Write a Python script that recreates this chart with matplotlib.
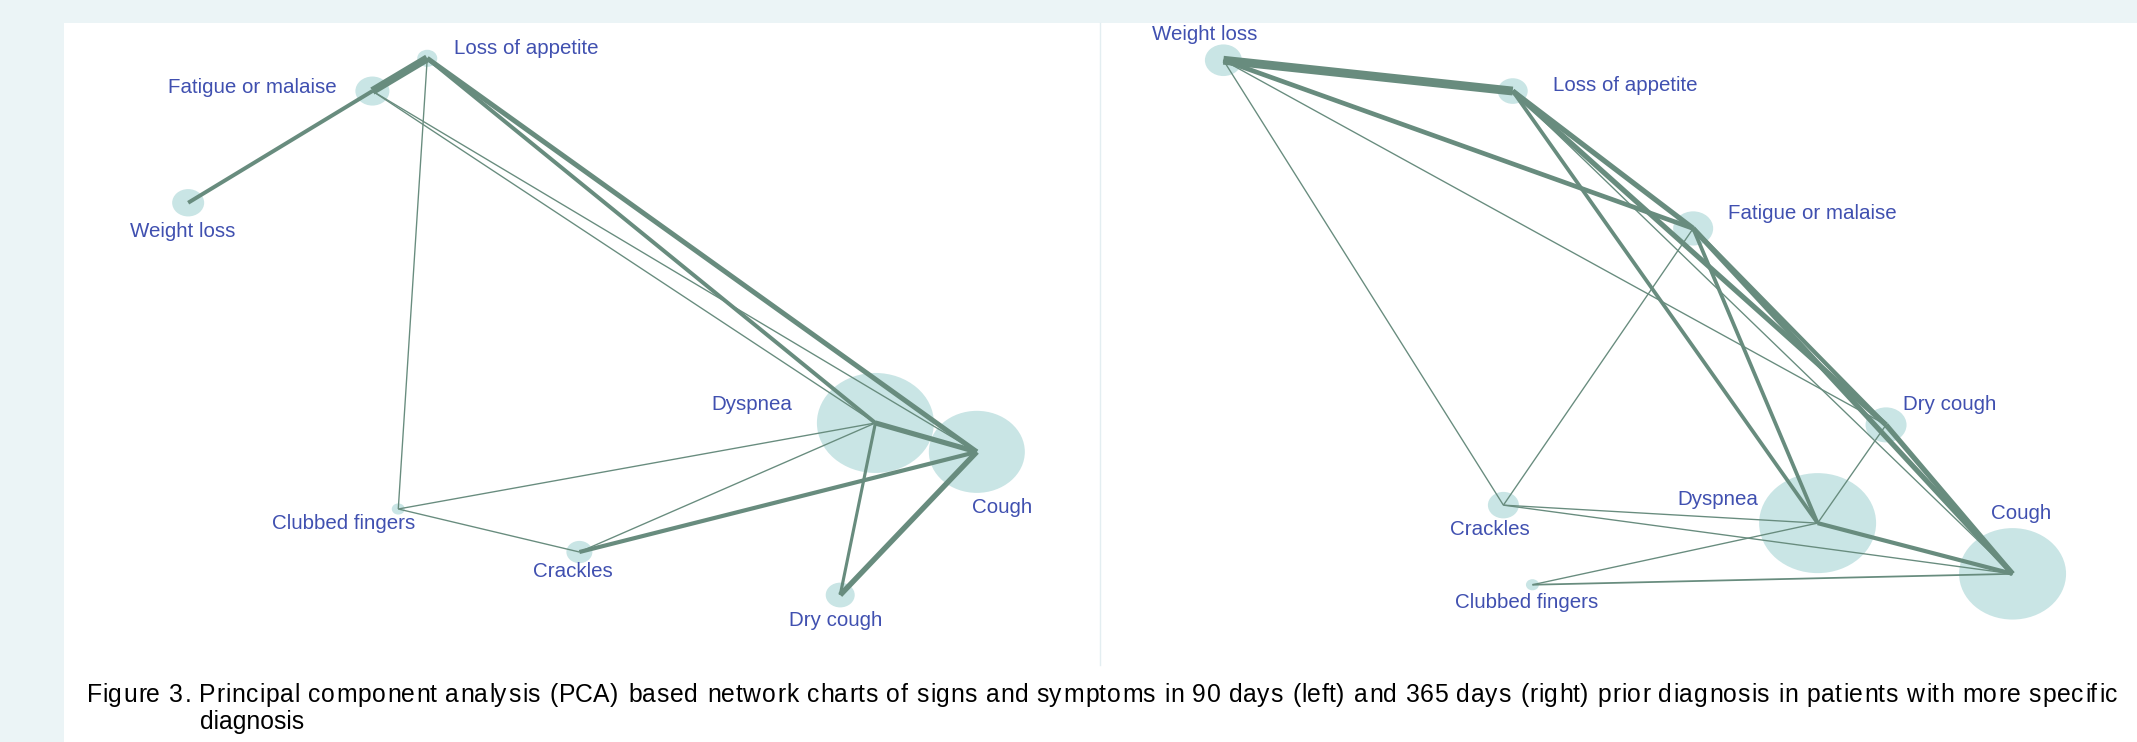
import matplotlib.pyplot as plt
from matplotlib import font_manager
from matplotlib.ft2font import FT2Font
from matplotlib.patches import Ellipse, Rectangle
from matplotlib.lines import Line2D

plt.rcParams['font.family'] = ['Liberation Sans', 'DejaVu Sans']

W_PX, H_PX, DPI = 2137, 742, 100

symptoms = ["Weight loss", "Loss of appetite", "Fatigue or malaise", "Dyspnea",
            "Cough", "Dry cough", "Crackles", "Clubbed fingers"]

# 90 days before diagnosis: PCA layout scores (0-100), node size, edge weights
x_90 = [11.9, 35.0, 29.7, 78.3, 88.1, 74.9, 49.7, 32.2]
y_90 = [72.0, 94.5, 89.4, 37.7, 33.2, 10.9, 17.6, 24.3]
size_90 = [32, 20, 34, 117, 96, 29, 26, 13]
edges_90 = [
    ("Weight loss", "Fatigue or malaise", 0.38),
    ("Fatigue or malaise", "Loss of appetite", 0.77),
    ("Loss of appetite", "Cough", 0.48),
    ("Loss of appetite", "Dyspnea", 0.38),
    ("Loss of appetite", "Clubbed fingers", 0.13),
    ("Fatigue or malaise", "Dyspnea", 0.13),
    ("Fatigue or malaise", "Cough", 0.13),
    ("Dyspnea", "Cough", 0.50),
    ("Dyspnea", "Dry cough", 0.30),
    ("Cough", "Dry cough", 0.52),
    ("Cough", "Crackles", 0.40),
    ("Dyspnea", "Crackles", 0.13),
    ("Dyspnea", "Clubbed fingers", 0.13),
    ("Clubbed fingers", "Crackles", 0.13),
]

# 365 days before diagnosis
x_365 = [11.9, 39.8, 57.2, 69.2, 88.0, 75.8, 38.9, 41.7]
y_365 = [94.2, 89.4, 68.0, 22.1, 14.2, 37.4, 24.9, 12.5]
size_365 = [37, 30, 40, 117, 107, 41, 31, 13]
edges_365 = [
    ("Weight loss", "Loss of appetite", 0.85),
    ("Weight loss", "Fatigue or malaise", 0.45),
    ("Weight loss", "Dry cough", 0.13),
    ("Weight loss", "Crackles", 0.13),
    ("Loss of appetite", "Fatigue or malaise", 0.50),
    ("Loss of appetite", "Dry cough", 0.50),
    ("Loss of appetite", "Cough", 0.13),
    ("Loss of appetite", "Dyspnea", 0.36),
    ("Fatigue or malaise", "Dry cough", 0.40),
    ("Fatigue or malaise", "Cough", 0.50),
    ("Fatigue or malaise", "Dyspnea", 0.36),
    ("Fatigue or malaise", "Crackles", 0.13),
    ("Dry cough", "Cough", 0.50),
    ("Dry cough", "Dyspnea", 0.13),
    ("Dyspnea", "Cough", 0.40),
    ("Dyspnea", "Crackles", 0.13),
    ("Dyspnea", "Clubbed fingers", 0.13),
    ("Crackles", "Cough", 0.13),
    ("Clubbed fingers", "Cough", 0.17),
]

caption_1 = ("Figure 3. Principal component analysis (PCA) based network charts of signs and "
             "symptoms in 90 days (left) and 365 days (right) prior diagnosis in patients with more specific")
caption_2 = "diagnosis"

# label placement (pixels from node centre, +y downwards)
labels_90 = {
    "Weight loss": (-5, 29), "Loss of appetite": (99, -10), "Fatigue or malaise": (-120, -4),
    "Dyspnea": (-124, -18), "Cough": (25, 56), "Dry cough": (-5, 25),
    "Crackles": (-7, 19), "Clubbed fingers": (-55, 15),
}
labels_365 = {
    "Weight loss": (-19, -26), "Loss of appetite": (113, -6), "Fatigue or malaise": (119, -15),
    "Dyspnea": (-100, -24), "Cough": (9, -60), "Dry cough": (64, -20),
    "Crackles": (-14, 24), "Clubbed fingers": (-6, 18),
}

NODE_COLOR = '#C9E5E5'
EDGE_COLOR = '#688C7E'
LABEL_COLOR = '#4050B0'
BG_COLOR = '#EBF4F6'
CAPTION_SIZE = 17.8


def draw_network(ax, xs, ys, sizes, edges, label_pos):
    ax.set_xlim(0, 100)
    ax.set_ylim(0, 100)
    ax.axis('off')
    bbox = ax.get_window_extent()
    px_x, px_y = bbox.width / 100, bbox.height / 100

    for x, y, s in zip(xs, ys, sizes):
        ax.add_patch(Ellipse((x, y), s / px_x, s / 1.17 / px_y,
                             facecolor=NODE_COLOR, edgecolor='none', zorder=1))

    for a, b, w in edges:
        i, j = symptoms.index(a), symptoms.index(b)
        ax.plot([xs[i], xs[j]], [ys[i], ys[j]], color=EDGE_COLOR, lw=w * 7.5,
                solid_capstyle='butt', zorder=2)

    for name, x, y in zip(symptoms, xs, ys):
        dx, dy = label_pos[name]
        ax.annotate(name, (x, y), xytext=(dx, -dy), textcoords='offset pixels',
                    ha='center', va='center', fontsize=14.8, color=LABEL_COLOR, zorder=3)


def spread_line(fig, text, x0, x1, y, size, **kw):
    # lay out one caption line glyph by glyph so it fills x0..x1 (pixels)
    ft = FT2Font(font_manager.findfont('Liberation Sans'))
    ft.set_size(size, DPI)
    glyphs = []
    for ch in text:
        g = ft.load_char(ord(ch))
        glyphs.append((ch, g.linearHoriAdvance / 65536, g.horiBearingX / 64))
    natural = sum(adv for _, adv, _ in glyphs)
    spacing = (x1 - x0 - natural) / (len(glyphs) - 1)
    x = x0
    for ch, adv, lsb in glyphs:
        if ch != ' ':
            fig.text((x + lsb) / W_PX, y, ch, fontsize=size, **kw)
        x += adv + spacing


fig = plt.figure(figsize=(W_PX / DPI, H_PX / DPI), dpi=DPI, facecolor=BG_COLOR)

# white page area
fig.add_artist(Rectangle((64 / W_PX, 0), 1, (H_PX - 23) / H_PX, transform=fig.transFigure,
                         facecolor='white', edgecolor='none', zorder=0))
fig.add_artist(Line2D([1100 / W_PX] * 2, [(H_PX - 665) / H_PX, (H_PX - 23) / H_PX],
                      transform=fig.transFigure, color='#E3EEF1', lw=1))

bottom = (H_PX - 665) / H_PX
height = 642 / H_PX
ax_left = fig.add_axes([65 / W_PX, bottom, 1035 / W_PX, height])
ax_right = fig.add_axes([1100 / W_PX, bottom, 1037 / W_PX, height])
ax_left.patch.set_alpha(0)
ax_right.patch.set_alpha(0)

draw_network(ax_left, x_90, y_90, size_90, edges_90, labels_90)
draw_network(ax_right, x_365, y_365, size_365, edges_365, labels_365)

spread_line(fig, caption_1, 85, 2116, 1 - 695 / H_PX, CAPTION_SIZE, color='black', va='center')
fig.text(200 / W_PX, 1 - 722 / H_PX, caption_2, fontsize=CAPTION_SIZE, color='black', va='center')

fig.savefig('out.png', dpi=DPI, facecolor=BG_COLOR)
